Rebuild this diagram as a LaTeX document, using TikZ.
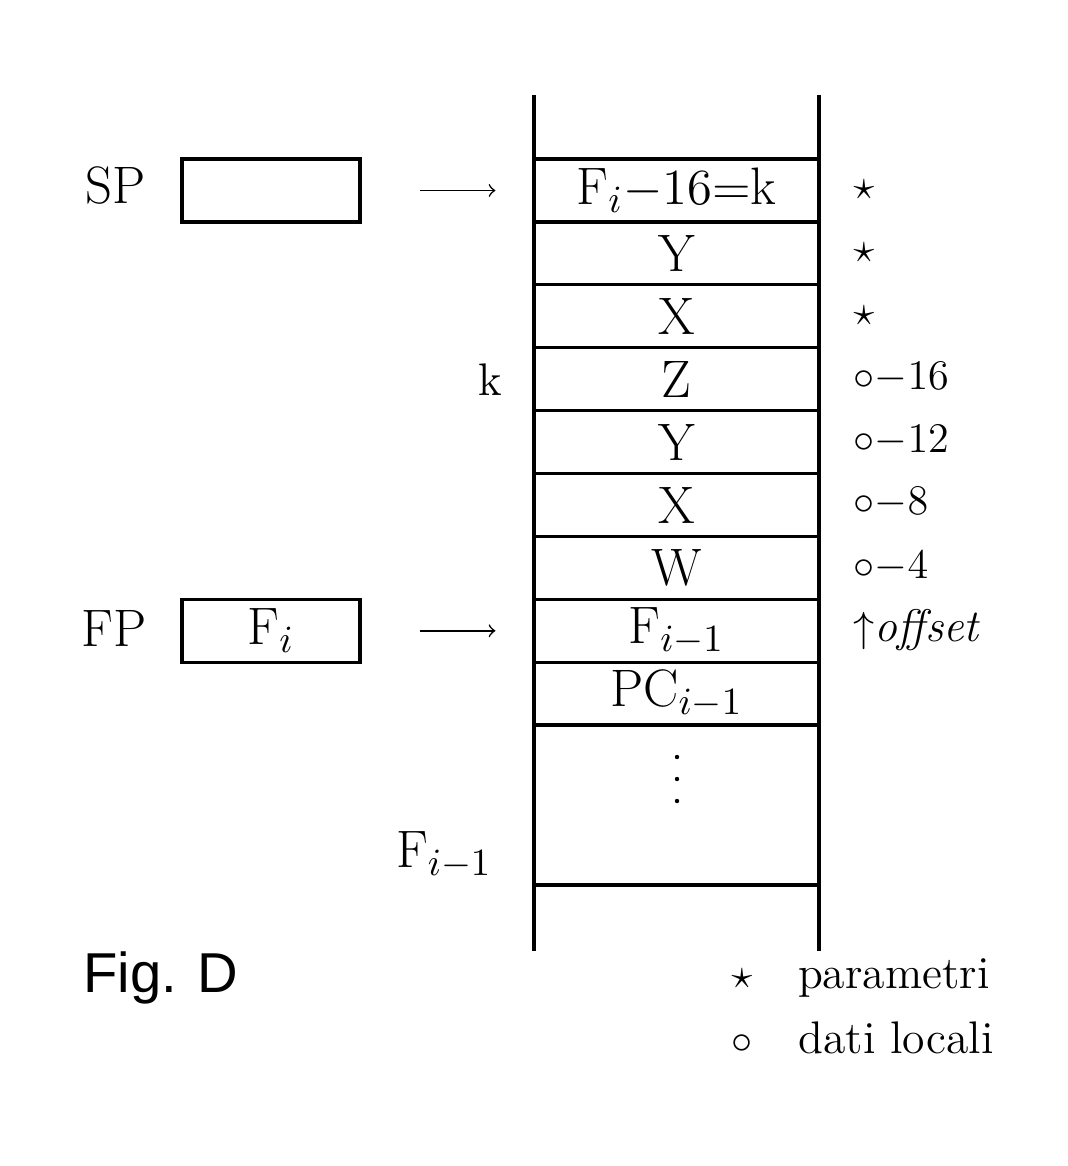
\documentclass[tikz,border=0pt]{standalone}
\usepackage{fontspec}
\usepackage{amsmath,amssymb}
\usetikzlibrary{positioning}
\newfontfamily\figfont{Liberation Sans}
\newcommand{\mainsize}{\fontsize{15}{18}\selectfont}
\newcommand{\notesize}{\fontsize{13}{16}\selectfont}

\begin{document}
\begin{tikzpicture}[x=0.1mm,y=-0.1mm]
        \useasboundingbox (0,0) rectangle (1068,1166);
        \tikzset{
            cell/.style={draw,line width=0.9pt,minimum width=28.5mm,minimum height=6.29mm,inner sep=0pt,font=\mainsize},
            reg/.style={draw,line width=0.9pt,minimum width=17.8mm,minimum height=6.3mm,inner sep=0pt,font=\mainsize},
            ptr/.style={-to,line width=0.45pt,shorten <=5.8mm,shorten >=3.7mm},
            note/.style={anchor=west,inner sep=0pt,font=\notesize}
        }
        \coordinate (top) at (534,95);
        \coordinate (bot) at (534,951);
        \coordinate (rtop) at (819,95);
        \coordinate (rbot) at (819,951);

        % stack
        \draw[line width=0.9pt] (top) -- (bot);
        \draw[line width=0.9pt] (rtop) -- (rbot);
        \node[cell] (c1) at (676.5,190.5) {$\mathrm{F}_i{-}16{=}\mathrm{k}$};
        \node[cell] (c2) at (676.5,253.4) {Y};
        \node[cell] (c3) at (676.5,316.3) {X};
        \node[cell] (c4) at (676.5,379.2) {Z};
        \node[cell] (c5) at (676.5,442.1) {Y};
        \node[cell] (c6) at (676.5,505.0) {X};
        \node[cell] (c7) at (676.5,567.9) {W};
        \node[cell] (c8) at (676.5,630.8) {F$_{i-1}$};
        \node[cell] (c9) at (676.5,693.7) {PC$_{i-1}$};
        \node[cell,minimum height=16mm] (c10) at (676.5,805) {};
        \fill (677,757) circle (2.2) (677,779) circle (2.2) (677,801) circle (2.2);

        % registers
        \node[font=\mainsize] (splabel) at (116,186) {SP};
        \node[reg] (sp) at (271,190.5) {};
        \node[font=\mainsize] (fplabel) at (114,628) {FP};
        \node[reg] (fp) at (271,630.8) {F$_i$};
        \draw[ptr] (sp) -- (c1);
        \draw[ptr] (fp) -- (c8);

        % side labels
        \node[font=\notesize] (klabel) at (490,380) {k};
        \node[font=\mainsize] (flabel) at (444,855) {F$_{i-1}$};
        \node[note] (n1) at (853,190) {$\star$};
        \node[note] (n2) at (853,253) {$\star$};
        \node[note] (n3) at (853,316) {$\star$};
        \node[note] (n4) at (853,378) {$\circ{-}16$};
        \node[note] (n5) at (853,441) {$\circ{-}12$};
        \node[note] (n6) at (853,503) {$\circ{-}8$};
        \node[note] (n7) at (853,567) {$\circ{-}4$};
        \node[note] (n8) at (853,630) {$\uparrow$\textit{offset}};

        % legend
        \node[note] (l1) at (731,978) {$\star$\quad parametri};
        \node[note] (l2) at (731,1038) {$\circ$\quad dati locali};
        \node[font=\figfont\fontsize{16}{19}\selectfont] (fig) at (161,978) {Fig. D};
    \end{tikzpicture}
\end{document}
